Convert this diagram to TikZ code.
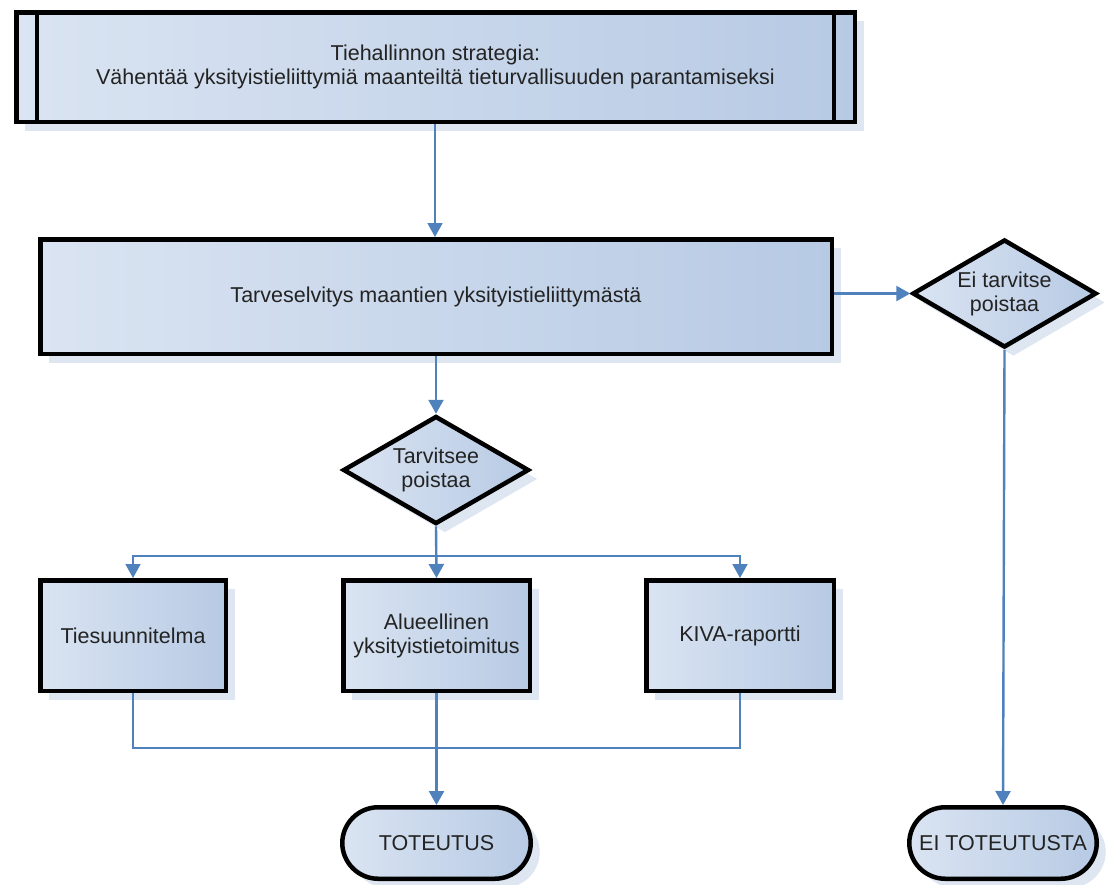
\documentclass[tikz,border=0pt]{standalone}
\usepackage{fontspec}
\setmainfont{Liberation Sans}
\usetikzlibrary{shapes.geometric,arrows.meta,shadows}
\definecolor{fillA}{RGB}{218,228,242}
\definecolor{fillB}{RGB}{183,202,228}
\definecolor{shadowc}{RGB}{221,230,241}
\definecolor{connc}{RGB}{79,129,189}
\definecolor{txt}{RGB}{35,35,35}
\begin{document}
\begin{tikzpicture}[x=1pt,y=-1pt,
  box/.style={draw=black, line width=4.5pt, left color=fillA, right color=fillB,
    drop shadow={shadow xshift=9pt,shadow yshift=-9pt,fill=shadowc,opacity=1},
    text=txt, font=\fontsize{21.5}{24}\selectfont, align=center, inner sep=2pt},
  dia/.style={box, shape=diamond, aspect=1.7},
  term/.style={box, rectangle, rounded corners=36pt},
  conn/.style={draw=connc, line width=2.4pt},
  arr/.style={conn, -{Triangle[length=14pt,width=15pt]}}]
\useasboundingbox (0,0) rectangle (1114,884);
\fill[white] (0,0) rectangle (1114,884);

\node[box, minimum width=838.5pt, minimum height=109.5pt] (top) at (435.5,67)
  {Tiehallinnon strategia:\\Vähentää yksityistieliittymiä maanteiltä tieturvallisuuden parantamiseksi};
\draw[line width=4.5pt] ([xshift=23pt]top.north west) -- ([xshift=23pt]top.south west);
\draw[line width=4.5pt] ([xshift=-23pt]top.north east) -- ([xshift=-23pt]top.south east);

\node[box, minimum width=791.5pt, minimum height=114.5pt] (need) at (436,296.5)
  {Tarveselvitys maantien yksityistieliittymästä};

\node[dia, minimum width=184pt, minimum height=108pt] (no) at (1004.5,293.5)
  {Ei tarvitse\\poistaa};

\node[dia, minimum width=186pt, minimum height=108pt] (yes) at (436,470)
  {Tarvitsee\\poistaa};

\node[box, minimum width=185.5pt, minimum height=110.5pt] (t1) at (133,635.5) {Tiesuunnitelma};
\node[box, minimum width=186.5pt, minimum height=110.5pt] (t2) at (436.5,635.5) {Alueellinen\\yksityistietoimitus};
\node[box, minimum width=187.5pt, minimum height=110.5pt] (t3) at (740,635.5) {KIVA-raportti};

\node[term, minimum width=188.5pt, minimum height=71.5pt] (done) at (436.5,843) {TOTEUTUS};
\node[term, minimum width=187.5pt, minimum height=71.5pt] (notdone) at (1003,843) {EI TOTEUTUSTA};

\coordinate (split) at (436.5,556);
\coordinate (merge) at (436.5,748);

\draw[arr, line width=1.6pt] (top.south -| 435,0) -- (need.north -| 435,0);
\draw[arr] (need.south) -- (yes.north);
\draw[arr] (need.east |- no.west) -- (no.west);
\draw[arr] (no.south) -- (notdone.north);
\draw[arr] (yes.south) -- (t2.north);
\draw[arr, line width=1.8pt] (split) -| (t1.north);
\draw[arr, line width=1.8pt] (split) -| (t3.north);
\draw[conn, line width=1.8pt] (t1.south) |- (merge);
\draw[conn, line width=1.8pt] (t3.south) |- (merge);
\draw[arr] (t2.south) -- (done.north);
\end{tikzpicture}
\end{document}
